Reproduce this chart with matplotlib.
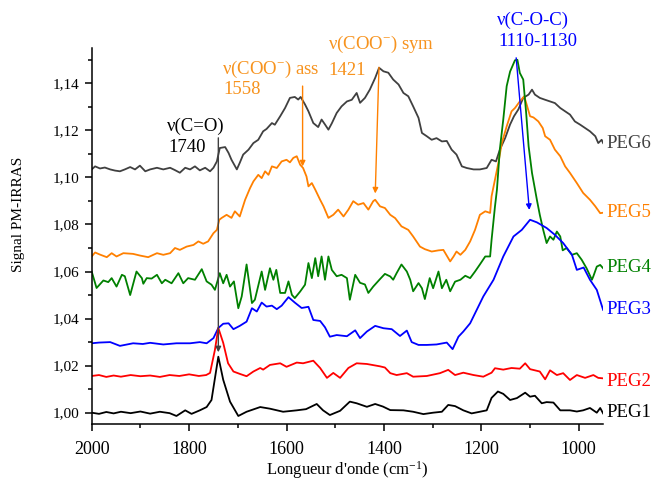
import matplotlib
matplotlib.use("Agg")
import matplotlib.pyplot as plt
from matplotlib.ticker import MultipleLocator, FuncFormatter

plt.rcParams['font.family'] = ['Liberation Serif', 'DejaVu Serif']
plt.rcParams['mathtext.fontset'] = 'custom'
plt.rcParams['mathtext.rm'] = 'Liberation Serif'
plt.rcParams['mathtext.it'] = 'Liberation Serif:italic'
plt.rcParams['mathtext.bf'] = 'Liberation Serif:bold'

# PEG1 (noir)
peg1_wn = [2000, 1985, 1970, 1955, 1940, 1920, 1900, 1880, 1860, 1840, 1826, 1808, 1795, 1778,
           1764, 1754, 1740, 1730, 1716, 1699, 1682, 1654, 1634, 1607, 1579, 1560, 1538, 1525,
           1511, 1490, 1470, 1456, 1435, 1418, 1402, 1387, 1360, 1340, 1319, 1299, 1281, 1268,
           1254, 1237, 1220, 1203, 1189, 1179, 1166, 1155, 1141, 1127, 1110, 1100, 1090, 1076,
           1066, 1052, 1038, 1018, 1004, 991, 977, 963, 956, 950]
peg1_val = [1.000, 0.9995, 1.0003, 0.9997, 1.0004, 0.9998, 1.0005, 0.9996, 1.0004, 0.9998, 0.9986,
            1.001, 0.9995, 1.001, 1.0024, 1.0054, 1.0238, 1.014, 1.0047, 0.9986, 1.0004, 1.0024,
            1.0017, 1.0004, 1.001, 1.0015, 1.0037, 1.001, 0.999, 1.0008, 1.0047, 1.004, 1.0025,
            1.0037, 1.0026, 1.0011, 1.001, 1.0004, 0.9994, 1.000, 1.0004, 1.0033, 1.0028, 1.001,
            0.9997, 1.0004, 1.001, 1.0063, 1.009, 1.008, 1.0054, 1.0062, 1.0085, 1.0068, 1.0072,
            1.004, 1.0045, 1.0043, 1.001, 1.001, 1.0005, 1.001, 1.002, 1.000, 1.002, 0.9997]

# PEG2 (rouge)
peg2_wn = [2000, 1985, 1970, 1955, 1940, 1920, 1900, 1880, 1860, 1840, 1820, 1800, 1780, 1765,
           1757, 1747, 1740, 1730, 1720, 1709, 1696, 1682, 1668, 1654, 1648, 1634, 1613, 1600,
           1579, 1566, 1545, 1531, 1517, 1504, 1490, 1473, 1456, 1435, 1408, 1398, 1387, 1374,
           1353, 1340, 1312, 1285, 1268, 1254, 1237, 1216, 1196, 1179, 1172, 1155, 1138, 1121,
           1110, 1100, 1080, 1069, 1059, 1045, 1032, 1018, 1004, 987, 970, 960, 950]
peg2_val = [1.0156, 1.016, 1.0152, 1.0158, 1.0153, 1.016, 1.0155, 1.0158, 1.0152, 1.016, 1.0156,
            1.0163, 1.0156, 1.016, 1.0169, 1.0267, 1.036, 1.0297, 1.021, 1.0175, 1.0165, 1.0155,
            1.0175, 1.019, 1.0183, 1.0203, 1.021, 1.0195, 1.0213, 1.021, 1.0221, 1.019, 1.0148,
            1.0169, 1.0148, 1.019, 1.021, 1.0207, 1.0197, 1.0192, 1.0168, 1.016, 1.0168, 1.0153,
            1.0156, 1.0168, 1.0182, 1.016, 1.017, 1.016, 1.0153, 1.017, 1.0189, 1.0183, 1.019,
            1.0187, 1.021, 1.0185, 1.0175, 1.0142, 1.018, 1.016, 1.0168, 1.0139, 1.016, 1.0148,
            1.016, 1.0148, 1.0146]

# PEG3 (bleu)
peg3_wn = [2000, 1985, 1962, 1942, 1915, 1895, 1880, 1853, 1826, 1798, 1778, 1764, 1750, 1740,
           1730, 1719, 1709, 1696, 1682, 1671, 1661, 1651, 1641, 1630, 1620, 1610, 1596, 1583,
           1569, 1555, 1545, 1531, 1521, 1511, 1497, 1476, 1459, 1449, 1435, 1418, 1401, 1384,
           1367, 1353, 1343, 1329, 1312, 1292, 1271, 1259, 1247, 1237, 1223, 1196, 1175, 1155,
           1134, 1117, 1100, 1086, 1066, 1049, 1032, 1014, 1004, 990, 977, 963, 950]
peg3_val = [1.0295, 1.0298, 1.030, 1.0284, 1.0295, 1.0292, 1.0297, 1.029, 1.0295, 1.0295, 1.030,
            1.0295, 1.0317, 1.036, 1.0378, 1.038, 1.0355, 1.0369, 1.0387, 1.0444, 1.043, 1.0468,
            1.0451, 1.0455, 1.044, 1.0455, 1.0491, 1.0468, 1.0445, 1.045, 1.0394, 1.039, 1.0363,
            1.0323, 1.033, 1.0325, 1.035, 1.0317, 1.0345, 1.0369, 1.0359, 1.0355, 1.0326, 1.0349,
            1.030, 1.0288, 1.0288, 1.029, 1.0298, 1.027, 1.0323, 1.0345, 1.038, 1.0494, 1.0565,
            1.0664, 1.0749, 1.0777, 1.082, 1.0809, 1.0785, 1.0756, 1.0721, 1.0671, 1.0607, 1.0617,
            1.0565, 1.0522, 1.0437]

# PEG4 (vert)
peg4_wn = [2000, 1990, 1976, 1966, 1959, 1949, 1938, 1932, 1921, 1908, 1897, 1894, 1887, 1877,
           1866, 1856, 1849, 1836, 1822, 1812, 1802, 1788, 1774, 1764, 1754, 1747, 1737, 1730,
           1723, 1716, 1708, 1699, 1692, 1682, 1671, 1665, 1651, 1644, 1634, 1627, 1621, 1613,
           1603, 1596, 1589, 1583, 1572, 1562, 1555, 1548, 1541, 1535, 1528, 1521, 1514, 1507,
           1497, 1487, 1476, 1470, 1459, 1449, 1439, 1432, 1422, 1408, 1398, 1387, 1381, 1374,
           1364, 1353, 1346, 1340, 1329, 1322, 1316, 1306, 1299, 1288, 1281, 1272, 1264, 1254,
           1243, 1233, 1223, 1213, 1203, 1192, 1182, 1179, 1172, 1168, 1162, 1155, 1148, 1141,
           1131, 1126, 1121, 1114, 1108, 1103, 1096, 1086, 1080, 1073, 1066, 1059, 1052, 1045,
           1038, 1033, 1025, 1014, 1004, 994, 984, 973, 970, 963, 956, 950]
peg4_val = [1.060, 1.053, 1.0562, 1.0555, 1.0572, 1.0536, 1.0586, 1.058, 1.050, 1.060, 1.0572,
            1.0548, 1.0572, 1.057, 1.0586, 1.055, 1.0565, 1.055, 1.0593, 1.055, 1.0572, 1.0565,
            1.061, 1.0558, 1.0544, 1.0522, 1.0593, 1.055, 1.0586, 1.0536, 1.0558, 1.0444, 1.0494,
            1.063, 1.0466, 1.048, 1.060, 1.0522, 1.0614, 1.0565, 1.0607, 1.0509, 1.0509, 1.0558,
            1.0501, 1.0487, 1.0515, 1.0544, 1.0636, 1.0572, 1.0657, 1.058, 1.0664, 1.0565, 1.0664,
            1.0607, 1.058, 1.0586, 1.0572, 1.048, 1.0586, 1.0552, 1.0545, 1.0509, 1.0536, 1.0568,
            1.059, 1.0579, 1.0565, 1.0593, 1.063, 1.060, 1.0565, 1.0516, 1.0551, 1.0529, 1.0483,
            1.0572, 1.0529, 1.060, 1.0529, 1.0565, 1.0516, 1.0557, 1.0565, 1.0582, 1.0572, 1.060,
            1.063, 1.0664, 1.0664, 1.0735, 1.0877, 1.0948, 1.112, 1.1246, 1.1388, 1.145, 1.1498,
            1.150, 1.1444, 1.1416, 1.1274, 1.1133, 1.1019, 1.0905, 1.0841, 1.0777, 1.0721, 1.0749,
            1.0735, 1.077, 1.0749, 1.069, 1.070, 1.0671, 1.0678, 1.065, 1.0614, 1.0565, 1.058,
            1.0621, 1.0628, 1.0614]

# PEG5 (orange)
peg5_wn = [2000, 1993, 1983, 1969, 1959, 1949, 1935, 1915, 1901, 1884, 1866, 1853, 1839, 1829,
           1819, 1805, 1791, 1781, 1771, 1761, 1750, 1743, 1738, 1733, 1723, 1713, 1706, 1696,
           1685, 1675, 1668, 1658, 1651, 1644, 1637, 1630, 1620, 1610, 1600, 1593, 1586, 1579,
           1572, 1566, 1559, 1555, 1548, 1541, 1531, 1524, 1514, 1504, 1494, 1483, 1473, 1463,
           1453, 1442, 1432, 1422, 1418, 1408, 1398, 1387, 1377, 1364, 1350, 1340, 1326, 1316,
           1302, 1288, 1278, 1270, 1264, 1257, 1251, 1243, 1233, 1223, 1213, 1203, 1192, 1182,
           1179, 1172, 1165, 1158, 1148, 1138, 1131, 1121, 1112, 1107, 1100, 1093, 1083, 1074,
           1069, 1059, 1049, 1038, 1028, 1018, 1004, 991, 977, 966, 956, 950]
peg5_val = [1.0664, 1.0681, 1.0672, 1.0661, 1.0678, 1.0664, 1.0678, 1.0675, 1.0668, 1.0661, 1.0678,
            1.0671, 1.0678, 1.070, 1.0692, 1.0706, 1.0713, 1.0728, 1.0718, 1.0728, 1.0763, 1.0777,
            1.082, 1.0828, 1.0841, 1.0828, 1.0856, 1.0834, 1.0905, 1.0954, 1.0983, 1.1011, 1.0997,
            1.1026, 1.1011, 1.1047, 1.104, 1.1068, 1.1075, 1.1064, 1.1083, 1.109, 1.1054, 1.104,
            1.1004, 1.0962, 1.0976, 1.0948, 1.0905, 1.0877, 1.0828, 1.0841, 1.0863, 1.0834, 1.0863,
            1.0899, 1.0884, 1.0891, 1.0863, 1.0899, 1.0905, 1.0877, 1.087, 1.0841, 1.0827, 1.0792,
            1.0777, 1.0749, 1.0706, 1.0695, 1.0685, 1.069, 1.0692, 1.0664, 1.0643, 1.0664, 1.0685,
            1.0671, 1.0692, 1.0728, 1.0777, 1.0841, 1.0856, 1.0849, 1.092, 1.0991, 1.1062, 1.1146,
            1.1217, 1.1281, 1.1295, 1.1323, 1.1345, 1.131, 1.126, 1.1255, 1.1238, 1.121, 1.1175,
            1.116, 1.1118, 1.109, 1.1047, 1.1019, 1.0976, 1.0934, 1.0905, 1.0877, 1.0848, 1.085]

# PEG6 (gris)
peg6_wn = [2000, 1993, 1983, 1973, 1962, 1952, 1942, 1932, 1921, 1911, 1901, 1890, 1880, 1866,
           1853, 1839, 1829, 1819, 1808, 1798, 1788, 1778, 1767, 1757, 1750, 1743, 1737, 1726,
           1719, 1713, 1702, 1696, 1689, 1678, 1668, 1658, 1648, 1641, 1630, 1624, 1613, 1603,
           1593, 1583, 1576, 1571, 1562, 1555, 1545, 1535, 1528, 1521, 1514, 1507, 1497, 1487,
           1476, 1466, 1456, 1449, 1439, 1429, 1418, 1410, 1401, 1391, 1381, 1370, 1360, 1350,
           1340, 1329, 1322, 1312, 1302, 1292, 1281, 1271, 1261, 1251, 1240, 1230, 1216, 1203,
           1189, 1179, 1170, 1162, 1151, 1141, 1133, 1124, 1114, 1103, 1096, 1090, 1080, 1069,
           1059, 1049, 1038, 1028, 1018, 1008, 997, 987, 977, 966, 960, 953, 950]
peg6_val = [1.1034, 1.1047, 1.1038, 1.1042, 1.1034, 1.1029, 1.1026, 1.1034, 1.1044, 1.1034, 1.105,
            1.1026, 1.1034, 1.1041, 1.1034, 1.1041, 1.1031, 1.102, 1.1041, 1.1034, 1.1047, 1.103,
            1.1041, 1.1026, 1.1041, 1.1068, 1.1125, 1.1129, 1.1104, 1.1075, 1.1034, 1.1062, 1.1097,
            1.1118, 1.1146, 1.116, 1.1196, 1.1206, 1.1231, 1.1224, 1.126, 1.1295, 1.1338, 1.1342,
            1.1331, 1.1342, 1.131, 1.1281, 1.1231, 1.1214, 1.1246, 1.1225, 1.1203, 1.123, 1.1274,
            1.1302, 1.1323, 1.133, 1.1359, 1.1317, 1.1338, 1.1373, 1.1423, 1.1466, 1.1451, 1.1445,
            1.1416, 1.1395, 1.1359, 1.1345, 1.1302, 1.1253, 1.1189, 1.1175, 1.116, 1.1167, 1.1153,
            1.1155, 1.1118, 1.1097, 1.1047, 1.104, 1.1034, 1.1034, 1.104, 1.1075, 1.1068, 1.1118,
            1.1168, 1.1225, 1.126, 1.1289, 1.1338, 1.1352, 1.1373, 1.1352, 1.1338, 1.133, 1.1323,
            1.1316, 1.1295, 1.1281, 1.1267, 1.1238, 1.1224, 1.121, 1.1196, 1.1175, 1.1146, 1.116,
            1.1146]

series = [
    ("PEG6", peg6_wn, peg6_val, "#404040", 1.1146),
    ("PEG5", peg5_wn, peg5_val, "#FF8000", 1.085),
    ("PEG4", peg4_wn, peg4_val, "#008000", 1.0616),
    ("PEG3", peg3_wn, peg3_val, "#0000FF", 1.0437),
    ("PEG2", peg2_wn, peg2_val, "#FF0000", 1.0131),
    ("PEG1", peg1_wn, peg1_val, "#000000", 1.000),
]

fig = plt.figure(figsize=(6.54, 4.93), dpi=100)
ax = fig.add_axes([0.1402, 0.140, 0.782, 0.7626])

for name, wn, val, col, ylab in series:
    ax.plot(wn, val, color=col, lw=1.3)
    ax.text(943, ylab, name, color=col, fontsize=13.5, ha="left", va="center")

ax.set_xlim(2000, 950)
ax.set_ylim(0.9952, 1.155)

ax.xaxis.set_major_locator(MultipleLocator(200))
ax.xaxis.set_minor_locator(MultipleLocator(100))
ax.yaxis.set_major_locator(MultipleLocator(0.02))
ax.yaxis.set_minor_locator(MultipleLocator(0.01))
ax.yaxis.set_major_formatter(FuncFormatter(lambda v, p: f"{v:.2f}".replace(".", ",")))
ax.tick_params(axis="x", which="major", direction="out", length=5, width=1.1, labelsize=13, pad=7)
ax.tick_params(axis="y", which="major", direction="out", length=5, width=1.1, labelsize=11)
ax.tick_params(which="minor", direction="out", length=3, width=1.1)
for s in ["top", "right"]:
    ax.spines[s].set_visible(False)
for s in ["left", "bottom"]:
    ax.spines[s].set_linewidth(1.1)

ax.set_xlabel("Longueur d'onde (cm$^{-1}$)", fontsize=12, va="center")
ax.xaxis.set_label_coords(0.5, -0.122)
ax.set_ylabel("Signal PM-IRRAS", fontsize=11, va="center")
ax.yaxis.set_label_coords(-0.144, 0.558)

# annotations
ax.text(1845, 1.1216, "ν(C=O)", fontsize=13.5, color="black", va="center")
ax.text(1843, 1.1127, "1740", fontsize=13.5, color="black", va="center")
ax.annotate("", xy=(1740, 1.0245), xytext=(1740, 1.118),
            arrowprops=dict(arrowstyle="-|>", color="#404040", lw=1, mutation_scale=8))

orange_txt = "#F7931E"
ax.text(1732, 1.1458, "ν(COO$^{-}$) ass", fontsize=13.5, color=orange_txt, va="center")
ax.text(1730, 1.1373, "1558", fontsize=13.5, color=orange_txt, va="center")
ax.annotate("", xy=(1567, 1.1035), xytext=(1567, 1.140),
            arrowprops=dict(arrowstyle="-|>", color="#FF8000", lw=1, mutation_scale=8))

ax.text(1515, 1.1565, "ν(COO$^{-}$) sym", fontsize=13.5, color=orange_txt, va="center")
ax.text(1515, 1.1454, "1421", fontsize=13.5, color=orange_txt, va="center")
ax.annotate("", xy=(1418, 1.092), xytext=(1410, 1.148),
            arrowprops=dict(arrowstyle="-|>", color="#FF8000", lw=1, mutation_scale=8))

ax.text(1168, 1.1667, "ν(C-O-C)", fontsize=13.5, color="#0000FF", va="center")
ax.text(1166, 1.1578, "1110-1130", fontsize=13.5, color="#0000FF", va="center")
ax.annotate("", xy=(1101, 1.085), xytext=(1129, 1.152),
            arrowprops=dict(arrowstyle="-|>", color="#0000FF", lw=1, mutation_scale=8))

fig.savefig("out.png", dpi=100)
